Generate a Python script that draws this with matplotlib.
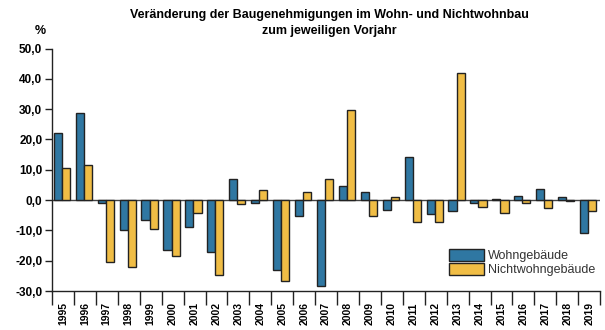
import matplotlib
matplotlib.use("Agg")
import matplotlib.pyplot as plt
import numpy as np
from matplotlib.ticker import FixedLocator, FuncFormatter

years = [str(y) for y in range(1995, 2020)]
wohn = [22.0, 28.6, -0.9, -9.9, -6.6, -16.3, -8.9, -17.2, 6.8, -0.8,
        -23.1, -5.2, -28.3, 4.7, 2.7, -3.2, 14.2, -4.5, -3.6, -0.9,
        0.5, 1.4, 3.6, 1.1, -10.8]
nichtwohn = [10.7, 11.5, -20.4, -22.2, -9.4, -18.6, -4.4, -24.6, -1.3, 3.2,
             -26.7, 2.7, 6.9, 29.8, -5.2, 1.0, -7.2, -7.2, 42.0, -2.2,
             -4.4, -0.9, -2.7, -0.4, -3.6]
yticks = [50, 40, 30, 20, 10, 0, -10, -20, -30]

c_blue = "#2f77a2"
c_yellow = "#f0bd45"
edge = "#222222"

plt.rcParams['font.family'] = ['Liberation Sans', 'DejaVu Sans']

fig = plt.figure(figsize=(6.05, 3.3), dpi=100)
ax = fig.add_axes([0.086, 0.118, 0.906, 0.735])

x = np.arange(len(years))
w = 0.37
ax.bar(x - 0.05 - w / 2, wohn, w, color=c_blue, edgecolor=edge, linewidth=1.0,
       label="Wohngebäude", zorder=3)
ax.bar(x - 0.05 + w / 2, nichtwohn, w, color=c_yellow, edgecolor=edge, linewidth=1.0,
       label="Nichtwohngebäude", zorder=3)

ax.set_xlim(-0.5, len(years) - 0.5)
ax.set_ylim(-30, 50)
ax.axhline(0, color="#444444", linewidth=1.0, zorder=2)

for s in ("top", "right"):
    ax.spines[s].set_visible(False)
ax.spines["left"].set_color("#222222")
ax.spines["bottom"].set_color("#222222")
ax.spines["left"].set_linewidth(1.0)
ax.spines["bottom"].set_linewidth(1.0)

ax.yaxis.set_major_locator(FixedLocator(yticks))
ax.yaxis.set_major_formatter(FuncFormatter(lambda v, p: f"{v:.1f}".replace(".", ",")))
ax.tick_params(axis="y", direction="out", length=5, width=1.0, color="#222222",
               labelsize=8.5, pad=2)
for lab in ax.get_yticklabels():
    lab.set_fontweight("bold")

ax.set_xticks(x)
ax.set_xticklabels(years, rotation=90, fontsize=7.5, fontweight="bold")
ax.tick_params(axis="x", which="major", length=0, pad=8)
ax.set_xticks(np.arange(-0.5, len(years)), minor=True)
ax.tick_params(axis="x", which="minor", direction="out", length=10, width=1.0,
               color="#222222")

fig.text(0.067, 0.905, "%", fontsize=9, fontweight="bold", ha="center", va="center")
fig.text(0.545, 0.955, "Veränderung der Baugenehmigungen im Wohn- und Nichtwohnbau",
         fontsize=9, fontweight="bold", ha="center", va="center")
fig.text(0.545, 0.905, "zum jeweiligen Vorjahr",
         fontsize=9, fontweight="bold", ha="center", va="center")

leg = ax.legend(loc="lower right", bbox_to_anchor=(1.005, 0.03), frameon=False,
                handlelength=2.8, handleheight=1.1, handletextpad=0.3,
                labelspacing=0.1, borderaxespad=0.2,
                prop={"family": ["Liberation Sans", "DejaVu Sans"], "size": 9})
for t in leg.get_texts():
    t.set_color("#333333")

fig.savefig("out.png", dpi=100)
